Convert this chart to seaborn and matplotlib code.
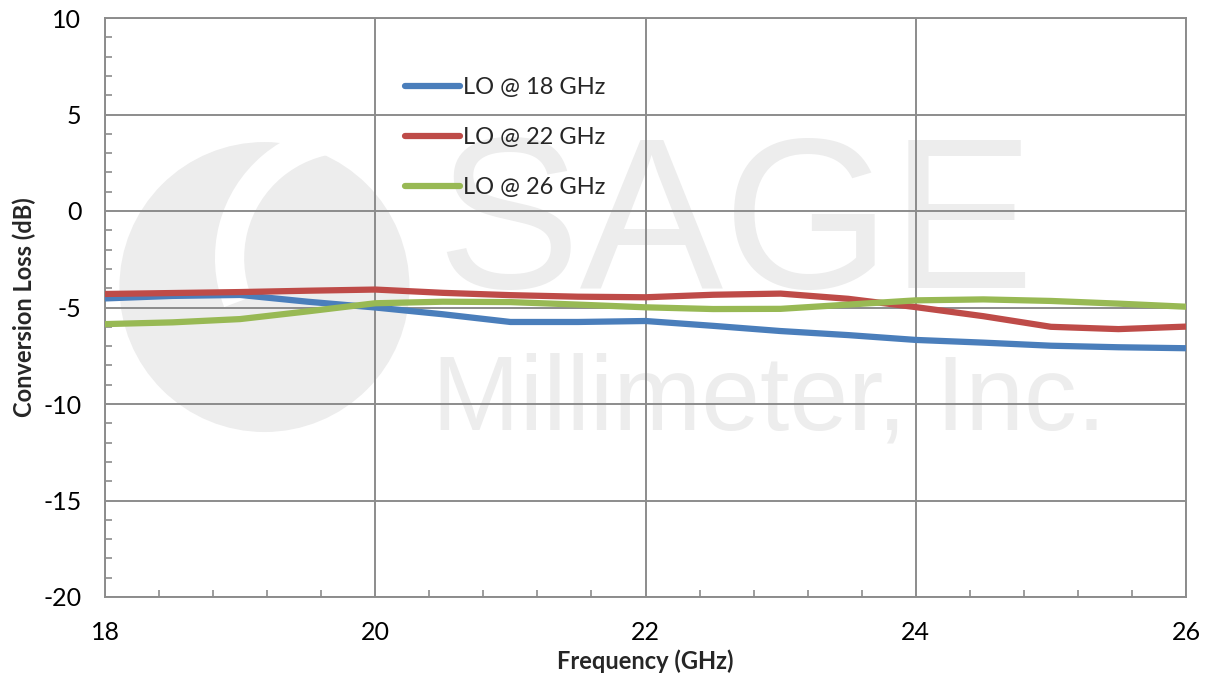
import matplotlib
matplotlib.use("Agg")
import matplotlib.pyplot as plt
from matplotlib.patches import Ellipse, Arc
from matplotlib.ticker import MultipleLocator
import seaborn as sns
import pandas as pd

# ---- data ----
freq = [18, 18.5, 19, 19.5, 20, 20.5, 21, 21.5, 22, 22.5, 23, 23.5, 24, 24.5, 25, 25.5, 26]
lo18 = [-4.53, -4.40, -4.35, -4.70, -5.00, -5.35, -5.75, -5.75, -5.70, -5.95, -6.22, -6.43, -6.68, -6.82, -6.98, -7.06, -7.11]
lo22 = [-4.30, -4.25, -4.20, -4.13, -4.07, -4.24, -4.36, -4.44, -4.47, -4.34, -4.28, -4.55, -4.98, -5.45, -6.00, -6.12, -5.99]
lo26 = [-5.86, -5.77, -5.60, -5.20, -4.78, -4.70, -4.72, -4.85, -4.99, -5.08, -5.07, -4.85, -4.63, -4.58, -4.66, -4.80, -4.96]
series_names = ["LO @ 18 GHz", "LO @ 22 GHz", "LO @ 26 GHz"]
colors = ["#4A7EBB", "#BE4B48", "#98B954"]
x_ticks = [18, 20, 22, 24, 26]
y_ticks = [-20, -15, -10, -5, 0, 5, 10]

df = pd.concat([
    pd.DataFrame({"Frequency": freq, "Loss": vals, "Series": name})
    for name, vals in zip(series_names, [lo18, lo22, lo26])
])

sns.set_style("white")
plt.rcParams["font.family"] = ["Lato", "DejaVu Sans"]
plt.rcParams["axes.unicode_minus"] = False

fig = plt.figure(figsize=(12.06, 6.77), dpi=100)
ax = fig.add_axes([105 / 1206, 1 - 597 / 677, (1186 - 105) / 1206, (597 - 18) / 677])

# ---- watermark ----
wm = "#EDEDED"
ax.add_patch(Ellipse((19.18, -3.94), 290 / 135.1, 290 / 19.3, facecolor=wm, edgecolor="none", zorder=0.1))
ax.add_patch(Arc((19.81, -2.44), 240 / 135.1, 240 / 19.3, theta1=85, theta2=250,
                 color="white", lw=21, zorder=0.15))
ax.text(20.45, -4.0, "SAGE", fontsize=155, family="Liberation Sans", color=wm,
        ha="left", va="baseline", zorder=0.1)
ax.text(20.42, -11.3, "Millimeter, Inc.", fontsize=76, family="Liberation Sans", color=wm,
        ha="left", va="baseline", zorder=0.1)

sns.lineplot(data=df, x="Frequency", y="Loss", hue="Series", hue_order=series_names,
             palette=colors, linewidth=4.5, ax=ax, zorder=3, legend=True)

ax.set_xlim(18, 26)
ax.set_ylim(-20, 10)
ax.set_xticks(x_ticks)
ax.set_yticks(y_ticks)
ax.xaxis.set_minor_locator(MultipleLocator(0.4))
ax.yaxis.set_minor_locator(MultipleLocator(1))

gc = "#8C8C8C"
ax.grid(True, which="major", color=gc, linewidth=1.4)
ax.set_axisbelow(True)
for s in ax.spines.values():
    s.set_color(gc)
    s.set_linewidth(1.4)

ax.tick_params(axis="both", which="major", length=0, labelsize=18, pad=17, labelcolor="black")
ax.tick_params(axis="both", which="minor", direction="in", length=5, width=1.2, color=gc,
               bottom=True, left=True)

ax.set_xlabel("Frequency (GHz)", fontsize=17, fontweight="bold", labelpad=4)
ax.set_ylabel("Conversion Loss (dB)", fontsize=17, fontweight="bold", labelpad=5)

leg = ax.legend(loc="upper left", bbox_to_anchor=(0.2775, 0.898), frameon=False,
                fontsize=17, handlelength=2.33, handletextpad=0.13, labelspacing=1.23,
                borderaxespad=0, borderpad=0)
for h in leg.legend_handles:
    h.set_linewidth(4.5)

fig.savefig("out.png", dpi=100)
